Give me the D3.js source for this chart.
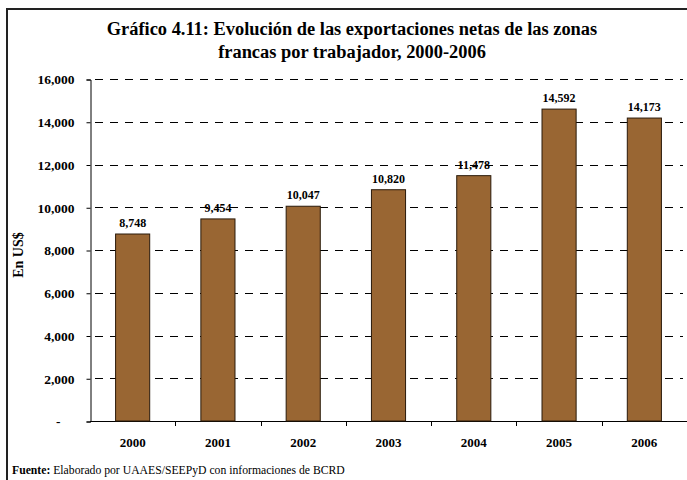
<!DOCTYPE html>
<html>
<head>
<meta charset="utf-8">
<script src="https://cdn.jsdelivr.net/npm/d3@7"></script>
<style>
  html, body { margin: 0; padding: 0; background: #fff; }
  svg { display: block; font-family: "Liberation Serif", "Times New Roman", serif; }
</style>
</head>
<body>
<svg id="chart" width="687" height="480"></svg>
<script>
// Net exports of free zones per worker (US$), 2000-2006
const years = ["2000", "2001", "2002", "2003", "2004", "2005", "2006"];
const values = [8748, 9454, 10047, 10820, 11478, 14592, 14173];
const yTicks = [0, 2000, 4000, 6000, 8000, 10000, 12000, 14000, 16000];
const titleLines = [
  "Gráfico 4.11: Evolución de las exportaciones netas de las zonas",
  "francas por trabajador, 2000-2006"
];

(function () {
  const svg = d3.select("#chart");
  const W = 687, H = 480;
  const plot = { left: 90, right: 687, top: 79, bottom: 421 };
  const serif = "Liberation Serif, Times New Roman, serif";

  // outer frame (extends past the right and bottom edges)
  svg.append("rect")
    .attr("x", 7).attr("y", 9)
    .attr("width", W + 10).attr("height", H + 10)
    .attr("fill", "none").attr("stroke", "#222").attr("stroke-width", 2);

  const x = d3.scaleBand().domain(years).range([plot.left, plot.right]).paddingInner(0.6).paddingOuter(0.3);
  const xb = d3.scaleBand().domain(years).range([plot.left, plot.right]);
  const y = d3.scaleLinear().domain([0, 16000]).range([plot.bottom, plot.top]);

  const fmt = d3.format(",");

  // gridlines
  svg.append("g").selectAll("line")
    .data(yTicks.filter(d => d > 0))
    .join("line")
    .attr("x1", plot.left).attr("x2", 683)
    .attr("y1", d => Math.round(y(d)) + 0.5).attr("y2", d => Math.round(y(d)) + 0.5)
    .attr("stroke", "#000").attr("stroke-width", 1)
    .attr("stroke-dasharray", "8,7")
    .attr("stroke-dashoffset", -5);

  // y axis
  const yAxis = d3.axisLeft(y).tickValues(yTicks).tickSize(4).tickPadding(12)
    .tickFormat(d => d === 0 ? "-" : fmt(d));
  const gy = svg.append("g").attr("transform", `translate(${plot.left + 0.5},0.5)`).call(yAxis);
  gy.attr("font-family", serif);
  gy.select(".domain").attr("stroke", "#000");
  gy.selectAll(".tick line").attr("stroke", "#000");
  gy.selectAll(".tick text")
    .attr("font-family", serif)
    .attr("font-size", 13.5).attr("font-weight", "bold").attr("fill", "#000");
  gy.selectAll(".tick text").filter(d => d === 0).attr("dx", -14);

  // x axis
  const xAxis = d3.axisBottom(xb).tickSize(0).tickPadding(16);
  const gx = svg.append("g").attr("transform", `translate(0,${plot.bottom + 0.5})`).call(xAxis);
  gx.attr("font-family", serif);
  gx.select(".domain").attr("stroke", "#000").attr("d", `M${plot.left},0H${plot.right}`);
  gx.selectAll(".tick text")
    .attr("font-family", serif)
    .attr("font-size", 13).attr("font-weight", "bold").attr("fill", "#000");

  // category separators
  svg.append("g").selectAll("line")
    .data(years.slice(1))
    .join("line")
    .attr("x1", d => Math.round(xb(d)) + 0.5).attr("x2", d => Math.round(xb(d)) + 0.5)
    .attr("y1", plot.bottom).attr("y2", plot.bottom + 5)
    .attr("stroke", "#000");

  // bars
  svg.append("g").selectAll("rect")
    .data(values)
    .join("rect")
    .attr("x", (d, i) => x(years[i]))
    .attr("y", d => y(d))
    .attr("width", x.bandwidth())
    .attr("height", d => plot.bottom - y(d))
    .attr("fill", "#996633")
    .attr("stroke", "#2a1a0a").attr("stroke-width", 1);

  // value labels
  svg.append("g").selectAll("text")
    .data(values)
    .join("text")
    .attr("x", (d, i) => x(years[i]) + x.bandwidth() / 2)
    .attr("y", d => y(d) - 7)
    .attr("text-anchor", "middle")
    .attr("font-size", 12).attr("font-weight", "bold")
    .text(d => fmt(d));

  // title
  svg.append("g").selectAll("text")
    .data(titleLines)
    .join("text")
    .attr("x", 352).attr("y", (d, i) => 35 + i * 23)
    .attr("text-anchor", "middle")
    .attr("font-size", 18.4).attr("font-weight", "bold")
    .text(d => d);

  // y axis title
  svg.append("text")
    .attr("transform", "translate(23,255) rotate(-90)")
    .attr("text-anchor", "middle")
    .attr("font-size", 14).attr("font-weight", "bold")
    .text("En US$");

  // source note
  const src = svg.append("text").attr("x", 12).attr("y", 474).attr("font-size", 11.7);
  src.append("tspan").attr("font-weight", "bold").text("Fuente:");
  src.append("tspan").text(" Elaborado por UAAES/SEEPyD con informaciones de BCRD");
})();
</script>
</body>
</html>
